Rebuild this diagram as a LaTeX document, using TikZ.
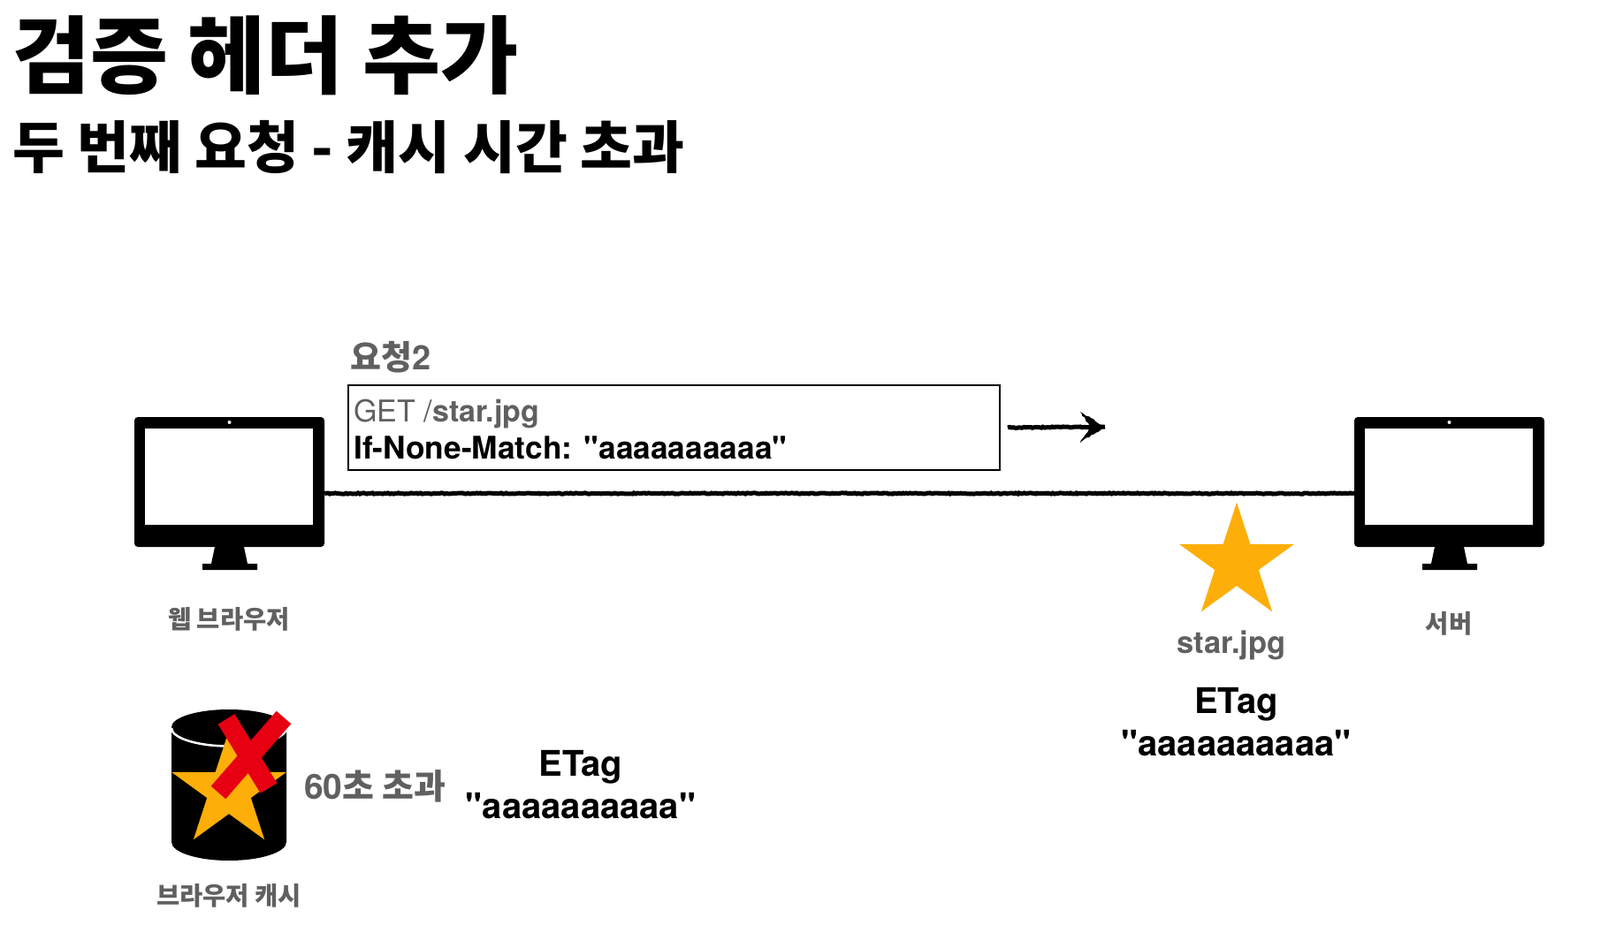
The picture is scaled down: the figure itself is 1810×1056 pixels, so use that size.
\documentclass[tikz,border=0pt]{standalone}
\usepackage{fontspec}
\setmainfont{TeX Gyre Heros}
\newfontfamily\cjk{Noto Sans CJK KR}
\usetikzlibrary{shapes.geometric,decorations.pathmorphing}

\definecolor{labelgray}{HTML}{606060}
\definecolor{starorange}{HTML}{FDAE08}
\definecolor{crossred}{HTML}{E60012}

\begin{document}
\begin{tikzpicture}[
    x=1pt, y=-1pt,
    % node styles
    titlemain/.style={anchor=base west, inner sep=0pt, font=\cjk\bfseries\fontsize{95.7}{100}\selectfont},
    titlesub/.style={anchor=base west, inner sep=0pt, font=\cjk\bfseries\fontsize{64}{70}\selectfont},
    screen/.style={rectangle, fill=black, inner sep=0pt, rounded corners=4pt,
        minimum width=215pt, minimum height=147pt},
    caption/.style={inner sep=0pt, text=labelgray, font=\cjk\bfseries\fontsize{28.5}{32}\selectfont},
    filename/.style={inner sep=0pt, text=labelgray, font=\bfseries\fontsize{34.5}{38}\selectfont},
    etag/.style={inner sep=0pt, align=center, font=\bfseries\fontsize{40}{47.3}\selectfont},
    reqbox/.style={rectangle, draw=black, line width=2pt, fill=white, inner sep=0pt,
        minimum width=737pt, minimum height=96pt},
    reqline/.style={anchor=base west, inner sep=0pt, font=\fontsize{34}{38}\selectfont},
    goldstar/.style={star, star points=5, star point ratio=2.618, fill=starorange,
        inner sep=0pt, minimum size=136.6pt},
    roughline/.style={draw=black, line width=5pt, decorate,
        decoration={random steps, segment length=2pt, amplitude=0.6pt}},
    crossbar/.style={crossred, line width=22pt}
]
\useasboundingbox (0,0) rectangle (1810,1056);
\fill[white] (0,0) rectangle (1810,1056);

% Titolo
\node[titlemain] (title) at (14,99) {검증 헤더 추가};
\node[titlesub] (subtitle) at (14,191) {두 번째 요청 - 캐시 시간 초과};

% Monitors
\node[screen] (browser) at (259.5,545.5) {};
\node[screen] (server) at (1639.5,545.5) {};
\foreach \mon in {browser,server} {
    \fill[white] ([shift={(-95.5pt,60.5pt)}]\mon.center) rectangle ([shift={(94.5pt,-48.5pt)}]\mon.center);
    \fill[white] ([yshift=67.5pt]\mon.center) circle (2pt);
    \fill[black] ([shift={(-16.5pt,-73.5pt)}]\mon.center) -- ++(33pt,0pt) -- ++(4pt,-19pt)
        -- ++(11pt,0pt) -- ++(0pt,-7pt) -- ++(-62pt,0pt) -- ++(0pt,7pt) -- ++(10pt,0pt) -- cycle;
}
\node[caption] (browserlabel) at (259,701) {웹 브라우저};
\node[caption] (serverlabel) at (1639,706) {서버};

% Request
\node[caption, anchor=base west, font=\bfseries\fontsize{38}{42}\selectfont] (reqtitle) at (396,418) {{\cjk 요청}2};
\node[reqbox] (request) at (762.5,484) {};
\node[reqline, text=labelgray] (reqfirst) at (400,477) {GET /\textbf{star.jpg}};
\node[reqline, font=\bfseries\fontsize{35.3}{38}\selectfont] (reqsecond) at (400,519) {If-None-Match: \textquotedbl aaaaaaaaaa\textquotedbl};

% Connections
\coordinate (arrowend) at (1250,483);
\draw[roughline] ([xshift=8pt]request.east) -- (arrowend);
\fill[black, decorate, decoration={random steps, segment length=3pt, amplitude=1pt}]
    (arrowend) -- ++(-28,-17) -- ++(12,17) -- ++(-12,18) -- cycle;
\draw[roughline] ([yshift=-13pt]browser.east) -- ([yshift=-13pt]server.west);

% Server resource
\node[goldstar] (serverstar) at (1399,637) {};
\node[filename] (starname) at (1393,730) {star.jpg};
\node[etag] (serveretag) at (1398.5,817) {ETag\\\textquotedbl aaaaaaaaaa\textquotedbl};

% Browser cache
\fill[black] (194,823) -- (194,953) arc[start angle=180, end angle=360, x radius=65, y radius=-21]
    -- (324,823) arc[start angle=0, end angle=180, x radius=65, y radius=-20] -- cycle;
\draw[white, line width=2.5pt] (194,824) arc[start angle=180, end angle=360, x radius=65, y radius=-20.5];
\node[goldstar] (cachestar) at (259,895) {};
\coordinate (crossa) at (256,814);
\coordinate (crossb) at (304,892);
\coordinate (crossc) at (321,812);
\coordinate (crossd) at (247,897);
\draw[crossbar] (crossa) -- (crossb);
\draw[crossbar] (crossc) -- (crossd);
\node[filename, anchor=base west, font=\bfseries\fontsize{39}{42}\selectfont] (expired) at (344,904) {60{\cjk 초 초과}};
\node[etag] (cacheetag) at (657,888) {ETag\\\textquotedbl aaaaaaaaaa\textquotedbl};
\node[caption] (cachelabel) at (259,1014) {브라우저 캐시};

\end{tikzpicture}
\end{document}
